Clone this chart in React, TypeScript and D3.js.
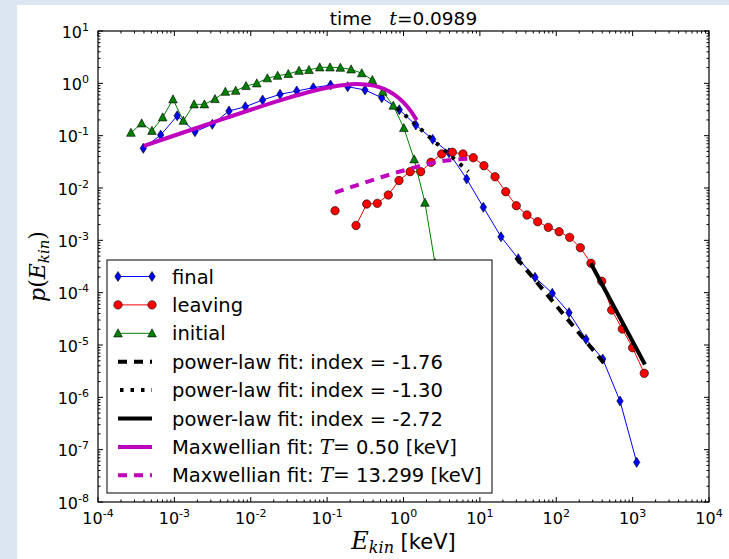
import React from "react";
import * as d3 from "d3";

// ---------- data ----------
const finalE = [3.92e-4, 6.62e-4, 1.09e-3, 1.86e-3, 3.14e-3, 5.19e-3, 8.49e-3, 1.43e-2, 2.42e-2, 4.0e-2, 6.59e-2, 0.111, 0.186, 0.313, 0.519, 0.881, 1.45, 2.41, 3.94, 6.71, 11.1, 18.9, 31.8, 52.7, 88.7, 147, 245, 406, 684, 1130];
const finalP = [5.73e-2, 0.103, 0.24, 0.119, 0.165, 0.296, 0.357, 0.48, 0.617, 0.713, 0.826, 0.929, 0.863, 0.746, 0.531, 0.313, 0.16, 8.51e-2, 4.72e-2, 1.49e-2, 4.28e-3, 1.17e-3, 4.46e-4, 1.96e-4, 9.72e-5, 4.14e-5, 1.29e-5, 5.4e-6, 8.49e-7, 5.73e-8];

const leavingE = [0.127, 0.174, 0.239, 0.33, 0.454, 0.632, 0.873, 1.22, 1.68, 2.29, 3.16, 4.36, 6.01, 8.2, 11.3, 15.8, 21.8, 30.0, 41.4, 57.1, 78.7, 109, 150, 207, 285, 394, 532, 733, 1000, 1420];
const leavingP: (number | null)[] = [3.68e-3, null, 1.92e-3, 4.94e-3, 5.09e-3, 7.35e-3, 1.39e-2, 2.05e-2, 2.05e-2, 3.1e-2, 4.47e-2, 4.81e-2, 4.47e-2, 3.79e-2, 2.67e-2, 1.64e-2, 8.49e-3, 4.59e-3, 3.05e-3, 2.27e-3, 1.77e-3, 1.46e-3, 1.14e-3, 7.23e-4, 3.64e-4, 1.65e-4, 4.66e-5, 2.02e-5, 8.87e-6, 2.88e-6];

const initialE = [2.7e-4, 3.73e-4, 5.09e-4, 7.03e-4, 9.59e-4, 1.31e-3, 1.81e-3, 2.47e-3, 3.4e-3, 4.65e-3, 6.35e-3, 8.67e-3, 1.2e-2, 1.65e-2, 2.25e-2, 3.1e-2, 4.29e-2, 5.79e-2, 8.0e-2, 0.109, 0.149, 0.206, 0.284, 0.391, 0.535, 0.735, 1.01, 1.38, 1.91, 2.58];
const initialP = [0.114, 0.172, 0.124, 0.224, 0.495, 0.193, 0.397, 0.397, 0.502, 0.692, 0.723, 0.889, 1.0, 1.25, 1.4, 1.51, 1.74, 1.8, 2.02, 2.02, 1.99, 1.85, 1.56, 1.16, 0.692, 0.374, 0.14, 3.53e-2, 5.24e-3, 3.69e-4];

const pl176E = [30, 420];
const pl176P = [4.68e-4, 4.55e-6];
const pl130E = [0.822, 7.08];
const pl130P = [0.338, 2.06e-2];
const pl272E = [283, 1450];
const pl272P = [3.64e-4, 4.24e-6];

const maxLowE = [4e-4, 1e-3, 3.16e-3, 1e-2, 3.16e-2, 5.62e-2, 0.1, 0.178, 0.237, 0.316, 0.42, 0.562, 0.75, 1.0, 1.26, 1.49];
const maxLowP = [0.0636, 0.1007, 0.1783, 0.3128, 0.5326, 0.676, 0.826, 0.943, 0.967, 0.953, 0.893, 0.777, 0.617, 0.432, 0.289, 0.198];
const maxHighE = [0.127, 0.316, 1.0, 3.16, 7.4];
const maxHighP = [8.18e-3, 1.277e-2, 2.158e-2, 3.26e-2, 3.63e-2];

const xTickExps = [-4, -3, -2, -1, 0, 1, 2, 3, 4];
const yTickExps = [-8, -7, -6, -5, -4, -3, -2, -1, 0, 1];

const legendItems = [
  { key: "final", text: "final" },
  { key: "leaving", text: "leaving" },
  { key: "initial", text: "initial" },
  { key: "pl176", text: "power-law fit: index = -1.76" },
  { key: "pl130", text: "power-law fit: index = -1.30" },
  { key: "pl272", text: "power-law fit: index = -2.72" },
  { key: "maxLow", text: "0.50 [keV]" },
  { key: "maxHigh", text: "13.299 [keV]" },
];

// ---------- layout ----------
const X0 = 98, X1 = 709, Y0 = 31, Y1 = 502;
const SANS = "DejaVu Sans";
const SERIF = "DejaVu Serif";

const zip = (a: number[], b: (number | null)[]) => a.map((v, i) => [v, b[i]] as [number, number | null]);

const Diamond = ({ cx, cy }: { cx: number; cy: number }) => (
  <path d={`M${cx},${cy - 5}L${cx + 3.2},${cy}L${cx},${cy + 5}L${cx - 3.2},${cy}Z`} fill="#0000ff" stroke="#000" strokeWidth={0.6} />
);
const Circle = ({ cx, cy }: { cx: number; cy: number }) => (
  <circle cx={cx} cy={cy} r={4.2} fill="#ff0000" stroke="#000" strokeWidth={0.6} />
);
const Tri = ({ cx, cy }: { cx: number; cy: number }) => (
  <path d={`M${cx},${cy - 4.5}L${cx + 4.3},${cy + 3.6}L${cx - 4.3},${cy + 3.6}Z`} fill="#008000" stroke="#000" strokeWidth={0.6} />
);

export default function App() {
  const x = d3.scaleLog().domain([1e-4, 1e4]).range([X0, X1]);
  const y = d3.scaleLog().domain([1e-8, 1e1]).range([Y1, Y0]);
  const line = d3
    .line<[number, number | null]>()
    .defined((d) => d[1] != null)
    .x((d) => x(d[0]))
    .y((d) => y(d[1] as number));
  const smooth = d3
    .line<[number, number | null]>()
    .x((d) => x(d[0]))
    .y((d) => y(d[1] as number))
    .curve(d3.curveMonotoneX);

  const finalData = zip(finalE, finalP);
  const leavingData = zip(leavingE, leavingP);
  const initialData = zip(initialE, initialP);

  const xMinor: number[] = [];
  for (let k = -4; k < 4; k++) for (let m = 2; m <= 9; m++) xMinor.push(m * Math.pow(10, k));
  const yMinor: number[] = [];
  for (let k = -8; k < 1; k++) for (let m = 2; m <= 9; m++) yMinor.push(m * Math.pow(10, k));

  const lgX = 107, lgY = 260, lgW = 385, lgH = 233;
  const rowY = (i: number) => 276.5 + i * 28.4;
  const hx0 = 118, hx1 = 152, tx = 172;
  const LFS = 19.5;

  const handle = (key: string, cy: number) => {
    switch (key) {
      case "final":
        return (<g><line x1={hx0} x2={hx1} y1={cy} y2={cy} stroke="#0000ff" strokeWidth={1} /><Diamond cx={hx0} cy={cy} /><Diamond cx={hx1} cy={cy} /></g>);
      case "leaving":
        return (<g><line x1={hx0} x2={hx1} y1={cy} y2={cy} stroke="#ff0000" strokeWidth={1} /><Circle cx={hx0} cy={cy} /><Circle cx={hx1} cy={cy} /></g>);
      case "initial":
        return (<g><line x1={hx0} x2={hx1} y1={cy} y2={cy} stroke="#008000" strokeWidth={1} /><Tri cx={hx0} cy={cy} /><Tri cx={hx1} cy={cy} /></g>);
      case "pl176":
        return <line x1={hx0} x2={hx1} y1={cy} y2={cy} stroke="#000" strokeWidth={4} strokeDasharray="9,7" />;
      case "pl130":
        return <line x1={hx0 + 2} x2={hx1} y1={cy} y2={cy} stroke="#000" strokeWidth={4} strokeDasharray="3.5,7" />;
      case "pl272":
        return <line x1={hx0} x2={hx1} y1={cy} y2={cy} stroke="#000" strokeWidth={4} />;
      case "maxLow":
        return <line x1={hx0} x2={hx1} y1={cy} y2={cy} stroke="#bf00bf" strokeWidth={4} />;
      case "maxHigh":
        return <line x1={hx0} x2={hx1} y1={cy} y2={cy} stroke="#bf00bf" strokeWidth={4} strokeDasharray="9,7" />;
    }
    return null;
  };

  return (
    <svg width={729} height={559} style={{ position: "absolute", left: 0, top: 0 }} fontFamily={SANS}>
      <rect x={0} y={0} width={729} height={559} fill="#dce6f2" />
      <rect x={17} y={5} width={712} height={554} fill="#ffffff" />
      <defs>
        <clipPath id="plotclip">
          <rect x={X0} y={Y0} width={X1 - X0} height={Y1 - Y0} />
        </clipPath>
      </defs>

      {/* title */}
      <text x={(X0 + X1) / 2} y={25} textAnchor="middle" fontSize={18.5}>
        time{"\u00a0\u00a0\u00a0"}
        <tspan fontFamily={SERIF} fontStyle="italic" fontSize={19}>t</tspan>
        <tspan>=0.0989</tspan>
      </text>

      <g clipPath="url(#plotclip)">
        <path d={line(finalData) || ""} fill="none" stroke="#0000ff" strokeWidth={1} />
        {finalData.map((d, i) => <Diamond key={i} cx={x(d[0])} cy={y(d[1] as number)} />)}
        <path d={line(leavingData) || ""} fill="none" stroke="#ff0000" strokeWidth={1} />
        {leavingData.filter((d) => d[1] != null).map((d, i) => <Circle key={i} cx={x(d[0])} cy={y(d[1] as number)} />)}
        <path d={line(initialData) || ""} fill="none" stroke="#008000" strokeWidth={1} />
        {initialData.map((d, i) => <Tri key={i} cx={x(d[0])} cy={y(d[1] as number)} />)}

        <path d={line(zip(pl176E, pl176P)) || ""} fill="none" stroke="#000" strokeWidth={4} strokeDasharray="9,7" />
        <path d={line(zip(pl130E, pl130P)) || ""} fill="none" stroke="#000" strokeWidth={4} strokeDasharray="3.5,7" />
        <path d={line(zip(pl272E, pl272P)) || ""} fill="none" stroke="#000" strokeWidth={4} />
        <path d={smooth(zip(maxLowE, maxLowP)) || ""} fill="none" stroke="#bf00bf" strokeWidth={4} />
        <path d={smooth(zip(maxHighE, maxHighP)) || ""} fill="none" stroke="#bf00bf" strokeWidth={4} strokeDasharray="9,7" />
      </g>

      {/* ticks */}
      <g stroke="#000" strokeWidth={1}>
        {xTickExps.map((k) => {
          const px = x(Math.pow(10, k));
          return (<g key={"xt" + k}><line x1={px} x2={px} y1={Y1} y2={Y1 - 5} /><line x1={px} x2={px} y1={Y0} y2={Y0 + 5} /></g>);
        })}
        {xMinor.map((v, i) => {
          const px = x(v);
          return (<g key={"xm" + i}><line x1={px} x2={px} y1={Y1} y2={Y1 - 2.5} /><line x1={px} x2={px} y1={Y0} y2={Y0 + 2.5} /></g>);
        })}
        {yTickExps.map((k) => {
          const py = y(Math.pow(10, k));
          return (<g key={"yt" + k}><line x1={X0} x2={X0 + 5} y1={py} y2={py} /><line x1={X1} x2={X1 - 5} y1={py} y2={py} /></g>);
        })}
        {yMinor.map((v, i) => {
          const py = y(v);
          return (<g key={"ym" + i}><line x1={X0} x2={X0 + 2.5} y1={py} y2={py} /><line x1={X1} x2={X1 - 2.5} y1={py} y2={py} /></g>);
        })}
      </g>
      <rect x={X0} y={Y0} width={X1 - X0} height={Y1 - Y0} fill="none" stroke="#000" strokeWidth={1.2} />

      {/* tick labels */}
      {xTickExps.map((k) => (
        <text key={"xl" + k} x={x(Math.pow(10, k))} y={524} textAnchor="middle" fontSize={16} fill="#000">
          10<tspan dy={-7} fontSize={11}>{String(k)}</tspan>
        </text>
      ))}
      {yTickExps.map((k) => (
        <text key={"yl" + k} x={89} y={y(Math.pow(10, k)) + 6.5} textAnchor="end" fontSize={16} fill="#000">
          10<tspan dy={-7} fontSize={11}>{String(k)}</tspan>
        </text>
      ))}

      {/* axis labels */}
      <text x={(X0 + X1) / 2} y={549} textAnchor="middle" fontSize={21}>
        <tspan fontFamily={SERIF} fontStyle="italic" fontSize={24}>E</tspan>
        <tspan fontFamily={SERIF} fontStyle="italic" fontSize={16} dy={4}>kin</tspan>
        <tspan dy={-4}>{"\u00a0[keV]"}</tspan>
      </text>
      <text transform={`translate(45,${(Y0 + Y1) / 2}) rotate(-90)`} textAnchor="middle" fontFamily={SERIF} fontStyle="italic" fontSize={22}>
        p<tspan fontStyle="normal">(</tspan>E<tspan fontSize={15} dy={4}>kin</tspan><tspan dy={-4} fontStyle="normal">)</tspan>
      </text>

      {/* legend */}
      <rect x={lgX} y={lgY} width={lgW} height={lgH} fill="#fff" stroke="#000" strokeWidth={1} />
      {legendItems.map((it, i) => {
        const cy = rowY(i);
        return (
          <g key={it.key}>
            {handle(it.key, cy)}
            {it.key === "maxLow" || it.key === "maxHigh" ? (
              <text x={tx} y={cy + 7} fontSize={LFS}>
                Maxwellian fit:{"\u00a0"}
                <tspan fontFamily={SERIF} fontStyle="italic" fontSize={20}>T</tspan>
                <tspan fontFamily={SERIF} fontSize={20}>=</tspan>
                <tspan>{"\u00a0" + it.text}</tspan>
              </text>
            ) : (
              <text x={tx} y={cy + 7} fontSize={LFS}>{it.text}</text>
            )}
          </g>
        );
      })}
    </svg>
  );
}
